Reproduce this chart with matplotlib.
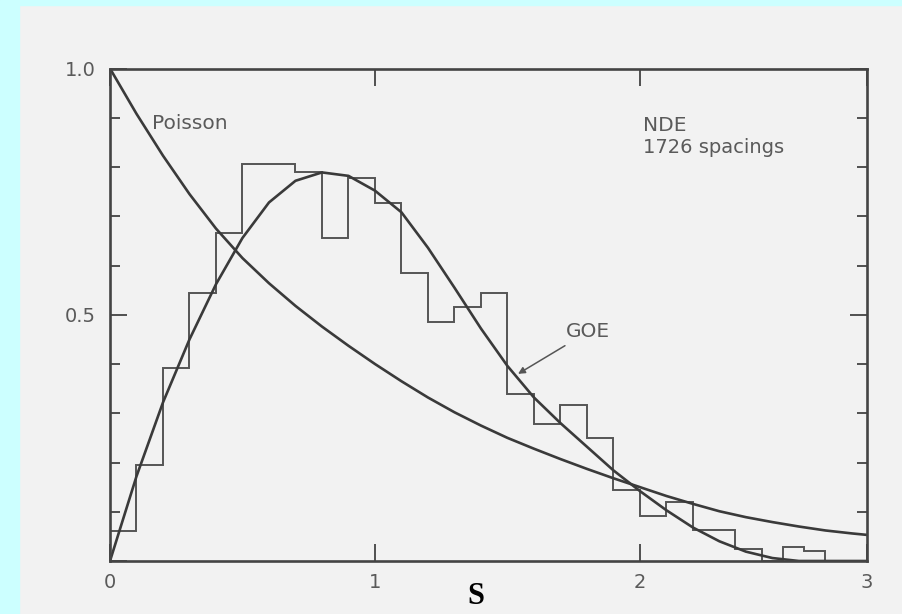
import numpy as np
import matplotlib.pyplot as plt
from matplotlib.patches import Rectangle

# nearest-neighbour spacing distribution: NDE data against Poisson and GOE
s_max = 2.857

# spacing grid for the two reference curves (last point = right edge)
s_curve = list(np.round(np.arange(0.0, 2.81, 0.1), 1)) + [s_max]
poisson = [1.000, 0.908, 0.823, 0.745, 0.675, 0.615, 0.564, 0.518, 0.476, 0.437,
           0.400, 0.365, 0.332, 0.302, 0.275, 0.250, 0.228, 0.207, 0.187, 0.168,
           0.150, 0.132, 0.116, 0.101, 0.089, 0.079, 0.070, 0.062, 0.056, 0.053]
goe = [0.000, 0.172, 0.322, 0.450, 0.562, 0.656, 0.728, 0.772, 0.789, 0.782,
       0.752, 0.708, 0.636, 0.555, 0.472, 0.396, 0.332, 0.280, 0.232, 0.184,
       0.142, 0.103, 0.068, 0.040, 0.019, 0.006, 0.000, 0.000, 0.000, 0.000]

# histogram of 1726 spacings: 0.1 bins up to 2.2, then the tail as drawn
bin_edges = list(np.round(np.arange(0.0, 2.21, 0.1), 1)) + [2.36, 2.46, 2.54, 2.62, 2.70]
nde = [0.061, 0.195, 0.392, 0.545, 0.665, 0.807, 0.807, 0.790, 0.655, 0.777,
       0.726, 0.584, 0.486, 0.515, 0.544, 0.339, 0.278, 0.316, 0.249, 0.145,
       0.091, 0.120, 0.063, 0.025, 0.000, 0.028, 0.020]

ink = '#3a3a3a'
grey_text = '#5a5a5a'

fig = plt.figure(figsize=(9.02, 6.14), dpi=100)
fig.patch.set_facecolor('#f2f2f2')
# cyan frame strips on the left and top
fig.patches.append(Rectangle((0, 0), 19 / 902, 1, transform=fig.transFigure,
                             color='#ccffff', zorder=0))
fig.patches.append(Rectangle((0, 1 - 5 / 614), 1, 5 / 614, transform=fig.transFigure,
                             color='#ccffff', zorder=0))

ax = fig.add_axes([110 / 902, 53 / 614, 757 / 902, 492.5 / 614])
ax.set_facecolor('none')

ax.stairs(nde, bin_edges, color='#555555', lw=1.4)
ax.plot(s_curve, poisson, color=ink, lw=1.9, solid_joinstyle='round')
ax.plot(s_curve, goe, color=ink, lw=1.9, solid_joinstyle='round')

ax.set_xlim(0, s_max)
ax.set_ylim(0, 1.0)

for sp in ax.spines.values():
    sp.set_color('#444444')
    sp.set_linewidth(1.9)

ax.set_xticks([0, 1, 2, s_max], ['0', '1', '2', '3'])
ax.set_yticks([0, 0.5, 1.0], ['', '0.5', '1.0'])
ax.set_yticks(np.round(np.arange(0.1, 1.0, 0.1), 1), minor=True)
ax.tick_params(axis='both', which='major', direction='in', length=12, width=1.3,
               color='#444444', labelsize=14, labelcolor=grey_text,
               top=True, right=True)
ax.tick_params(axis='y', which='minor', direction='in', length=7, width=1.3,
               color='#444444', right=True)
ax.tick_params(axis='x', pad=9)
ax.tick_params(axis='y', pad=10)

ax.text(0.16, 0.888, 'Poisson', fontsize=14.5, color=grey_text, ha='left',
        va='center')
ax.text(2.01, 0.885, 'NDE', fontsize=14.5, color=grey_text, ha='left', va='center')
ax.text(2.01, 0.84, '1726 spacings', fontsize=14, color=grey_text, ha='left',
        va='center')
ax.annotate('GOE', xy=(1.54, 0.38), xytext=(1.72, 0.465), fontsize=14.5,
            color=grey_text, ha='left', va='center',
            arrowprops=dict(arrowstyle='-|>', color='#555555', lw=1.1,
                            shrinkA=2, shrinkB=0, mutation_scale=10))

fig.text(476 / 902, 1 - 582 / 614, 'S', fontsize=22, fontweight='bold',
         family='Liberation Serif', ha='center', va='top', color='black')

fig.savefig('out.png', dpi=100, facecolor=fig.get_facecolor())
